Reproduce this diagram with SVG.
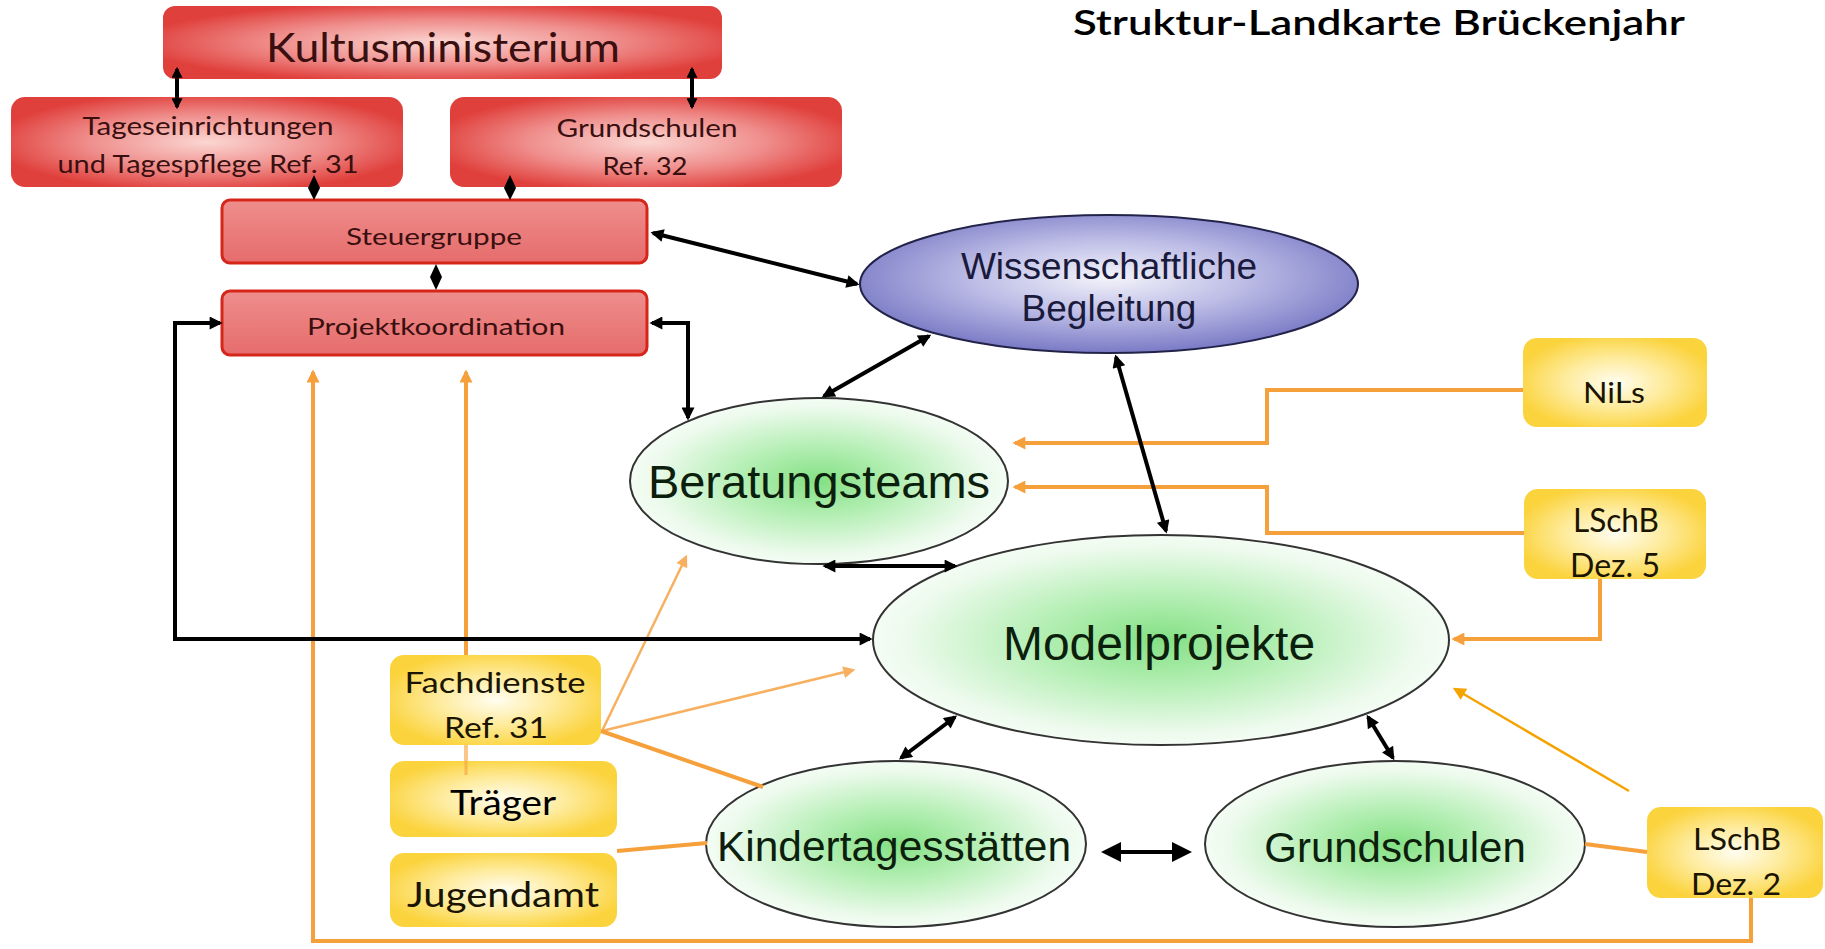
<svg xmlns="http://www.w3.org/2000/svg" width="1825" height="949" viewBox="0 0 1825 949">
<defs>
<radialGradient id="redG" cx="50%" cy="50%" r="55%">
<stop offset="0%" stop-color="#fbd6d2"/><stop offset="55%" stop-color="#ef8e8c"/><stop offset="100%" stop-color="#e0403c"/>
</radialGradient>
<linearGradient id="redF" x1="0" y1="0" x2="0" y2="1">
<stop offset="0%" stop-color="#ee8e8c"/><stop offset="100%" stop-color="#e66c6c"/>
</linearGradient>
<radialGradient id="yelG" cx="50%" cy="50%" r="55%">
<stop offset="0%" stop-color="#fffdf0"/><stop offset="50%" stop-color="#feeb9c"/><stop offset="100%" stop-color="#fbd33c"/>
</radialGradient>
<radialGradient id="bluG" cx="50%" cy="45%" r="55%">
<stop offset="0%" stop-color="#f4f4fb"/><stop offset="50%" stop-color="#bcbce6"/><stop offset="100%" stop-color="#7a7ac6"/>
</radialGradient>
<radialGradient id="grnG" cx="50%" cy="50%" r="55%">
<stop offset="0%" stop-color="#84e084"/><stop offset="40%" stop-color="#b6efb6"/><stop offset="80%" stop-color="#ecfaec"/><stop offset="100%" stop-color="#fbfffb"/>
</radialGradient>
<marker id="ab" viewBox="0 0 10 10" markerWidth="15" markerHeight="13" refX="8" refY="5" orient="auto-start-reverse" markerUnits="userSpaceOnUse"><path d="M0,0 L10,5 L0,10 z" fill="#000"/></marker>
<marker id="abs" viewBox="0 0 10 10" markerWidth="11" markerHeight="11" refX="8" refY="5" orient="auto-start-reverse" markerUnits="userSpaceOnUse"><path d="M0,0 L10,5 L0,10 z" fill="#000"/></marker>
<marker id="abig" viewBox="0 0 10 10" markerWidth="20" markerHeight="24" refX="8" refY="5" orient="auto-start-reverse" markerUnits="userSpaceOnUse"><path d="M0,0 L10,5 L0,10 z" fill="#000"/></marker>
<marker id="ao" viewBox="0 0 10 10" markerWidth="15" markerHeight="13" refX="8" refY="5" orient="auto" markerUnits="userSpaceOnUse"><path d="M0,0 L10,5 L0,10 z" fill="#f6a03c"/></marker>
<marker id="aot" viewBox="0 0 10 10" markerWidth="14" markerHeight="12" refX="8" refY="5" orient="auto" markerUnits="userSpaceOnUse"><path d="M0,0 L10,5 L0,10 z" fill="#f7b060"/></marker>
<marker id="aoo" viewBox="0 0 10 10" markerWidth="16" markerHeight="13" refX="8" refY="5" orient="auto" markerUnits="userSpaceOnUse"><path d="M0,0 L10,5 L0,10 z" fill="#f5a300"/></marker>
</defs>
<style>
.redbox{fill:url(#redG);}
.redflat{fill:url(#redF);stroke:#d6261a;stroke-width:3;}
.yel{fill:url(#yelG);}
.ell{fill:url(#grnG);stroke:#333;stroke-width:2;}
.cal{font-family:Lato,"Open Sans","Liberation Sans",sans-serif;text-anchor:middle;}
.rt{fill:#3a0f0f;}
.yt{fill:#1a1400;}
.ar{font-family:"Liberation Sans",Arial,sans-serif;text-anchor:middle;fill:#0c1e0c;}
.bt{fill:#1a1a3c;}
.bk{stroke:#000;stroke-width:4;fill:none;}
.or{stroke:#f6a03c;stroke-width:4;fill:none;}
.ort{stroke:#f7b060;stroke-width:2.5;fill:none;}
</style>
<rect width="1825" height="949" fill="#ffffff"/>
<text x="1379" y="35" class="cal" font-size="35" font-weight="600" fill="#000" textLength="612" lengthAdjust="spacingAndGlyphs">Struktur-Landkarte Brückenjahr</text>

<g id="kultusministerium">
<rect x="163" y="6" width="559" height="73" rx="12" class="redbox"/>
<text x="443" y="62" class="cal rt" font-size="40" textLength="354" lengthAdjust="spacingAndGlyphs">Kultusministerium</text>
</g>
<g id="tageseinrichtungen">
<rect x="11" y="97" width="392" height="90" rx="14" class="redbox"/>
<text x="208" y="135" class="cal rt" font-size="25" textLength="251" lengthAdjust="spacingAndGlyphs">Tageseinrichtungen</text>
<text x="208" y="173" class="cal rt" font-size="25" textLength="301" lengthAdjust="spacingAndGlyphs">und Tagespflege Ref. 31</text>
</g>
<g id="grundschulen-ref32">
<rect x="450" y="97" width="392" height="90" rx="14" class="redbox"/>
<text x="647" y="137" class="cal rt" font-size="25" textLength="181" lengthAdjust="spacingAndGlyphs">Grundschulen</text>
<text x="645" y="175" class="cal rt" font-size="25" textLength="85" lengthAdjust="spacingAndGlyphs">Ref. 32</text>
</g>
<g id="steuergruppe">
<rect x="222" y="200" width="425" height="63" rx="8" class="redflat"/>
<text x="434" y="245" class="cal rt" font-size="24" textLength="176" lengthAdjust="spacingAndGlyphs">Steuergruppe</text>
</g>
<g id="projektkoordination">
<rect x="222" y="291" width="425" height="64" rx="8" class="redflat"/>
<text x="436" y="335" class="cal rt" font-size="24" textLength="258" lengthAdjust="spacingAndGlyphs">Projektkoordination</text>
</g>

<g id="wissenschaftliche-begleitung">
<ellipse cx="1109" cy="284" rx="249" ry="69" fill="url(#bluG)" stroke="#23234a" stroke-width="2"/>
<text x="1109" y="279" class="ar bt" font-size="37">Wissenschaftliche</text>
<text x="1109" y="321" class="ar bt" font-size="37">Begleitung</text>
</g>
<g id="beratungsteams">
<ellipse cx="819" cy="481" rx="189" ry="83" class="ell"/>
<text x="819" y="498" class="ar" font-size="47">Beratungsteams</text>
</g>
<g id="modellprojekte">
<ellipse cx="1161" cy="640" rx="288" ry="105" class="ell"/>
<text x="1159" y="660" class="ar" font-size="48">Modellprojekte</text>
</g>
<g id="kindertagesstaetten">
<ellipse cx="896" cy="844" rx="190" ry="83" class="ell"/>
<text x="894" y="861" class="ar" font-size="42.5" textLength="354" lengthAdjust="spacingAndGlyphs">Kindertagesstätten</text>
</g>
<g id="grundschulen">
<ellipse cx="1395" cy="844" rx="190" ry="83" class="ell"/>
<text x="1395" y="862" class="ar" font-size="42">Grundschulen</text>
</g>

<g id="nils">
<rect x="1523" y="338" width="184" height="89" rx="14" class="yel"/>
<text x="1614" y="403" class="cal yt" font-size="29" textLength="62" lengthAdjust="spacingAndGlyphs">NiLs</text>
</g>
<g id="lschb-dez5">
<rect x="1524" y="489" width="182" height="90" rx="14" class="yel"/>
<text x="1616" y="532" class="cal yt" font-size="32" textLength="86" lengthAdjust="spacingAndGlyphs">LSchB</text>
<text x="1615" y="577" class="cal yt" font-size="32" textLength="90" lengthAdjust="spacingAndGlyphs">Dez. 5</text>
</g>
<g id="lschb-dez2">
<rect x="1647" y="807" width="176" height="91" rx="14" class="yel"/>
<text x="1737" y="850" class="cal yt" font-size="30" textLength="88" lengthAdjust="spacingAndGlyphs">LSchB</text>
<text x="1736" y="895" class="cal yt" font-size="30" textLength="90" lengthAdjust="spacingAndGlyphs">Dez. 2</text>
</g>
<g id="fachdienste">
<rect x="390" y="655" width="211" height="90" rx="14" class="yel"/>
<text x="495" y="693" class="cal yt" font-size="29" textLength="181" lengthAdjust="spacingAndGlyphs">Fachdienste</text>
<text x="496" y="738" class="cal yt" font-size="29" textLength="104" lengthAdjust="spacingAndGlyphs">Ref. 31</text>
</g>
<g id="traeger">
<rect x="390" y="761" width="227" height="76" rx="14" class="yel"/>
<line x1="466" y1="761" x2="466" y2="775" stroke="#f6a03c" stroke-width="3" opacity="0.6"/>
<text x="503" y="815" class="cal" font-size="35" fill="#000" textLength="106" lengthAdjust="spacingAndGlyphs">Träger</text>
</g>
<g id="jugendamt">
<rect x="390" y="853" width="227" height="74" rx="14" class="yel"/>
<text x="503" y="907" class="cal yt" font-size="34" textLength="192" lengthAdjust="spacingAndGlyphs">Jugendamt</text>
</g>

<g id="connectors">
<path class="or" d="M1751,898 L1751,941 L313,941 L313,372" marker-end="url(#ao)"/>
<path class="or" d="M466,655 L466,372" stroke-width="3.5" marker-end="url(#ao)"/>
<path class="or" d="M466,745 L466,761" stroke-width="3" opacity="0.6"/>
<path class="or" d="M1523,390 L1267,390 L1267,443 L1015,443" marker-end="url(#ao)"/>
<path class="or" d="M1524,533 L1267,533 L1267,487 L1015,487" marker-end="url(#ao)"/>
<path class="or" d="M1600,579 L1600,639 L1454,639" marker-end="url(#ao)"/>
<path d="M1629,791 L1455,689" stroke="#f5a300" stroke-width="2.5" fill="none" marker-end="url(#aoo)"/>
<path class="or" d="M1647,852 L1585,844" stroke-width="5"/>
<path class="ort" d="M602,731 L686,557" marker-end="url(#aot)"/>
<path class="ort" d="M602,731 L853,670" marker-end="url(#aot)"/>
<path class="or" d="M601,731 L763,787" stroke-width="4.5"/>
<path class="or" d="M617,851 L707,843" stroke-width="5"/>
<path class="bk" d="M177,69 L177,107" stroke-width="3" marker-start="url(#abs)" marker-end="url(#abs)"/>
<path class="bk" d="M692,69 L692,107" stroke-width="3" marker-start="url(#abs)" marker-end="url(#abs)"/>
<polygon points="314,175 320,188 314,200 308,188" fill="#000"/>
<polygon points="510,175 516,188 510,200 504,188" fill="#000"/>
<polygon points="436,264 442,277 436,290 430,277" fill="#000"/>
<path class="bk" d="M653,233 L857,284" marker-start="url(#ab)" marker-end="url(#ab)"/>
<path class="bk" d="M652,323 L688,323 L688,418" marker-start="url(#ab)" marker-end="url(#ab)"/>
<path class="bk" d="M220,323 L175,323 L175,639 L870,639" marker-start="url(#ab)" marker-end="url(#ab)"/>
<path class="bk" d="M824,396 L929,336" marker-start="url(#ab)" marker-end="url(#ab)"/>
<path class="bk" d="M825,566 L955,566" marker-start="url(#ab)" marker-end="url(#ab)"/>
<path class="bk" d="M1116,357 L1166,531" marker-start="url(#ab)" marker-end="url(#ab)"/>
<path class="bk" d="M901,758 L955,717" marker-start="url(#ab)" marker-end="url(#ab)"/>
<path class="bk" d="M1368,717 L1393,758" marker-start="url(#ab)" marker-end="url(#ab)"/>
<path class="bk" d="M1105,852 L1188,852" stroke-width="7" marker-start="url(#abig)" marker-end="url(#abig)"/>
</g>
</svg>
